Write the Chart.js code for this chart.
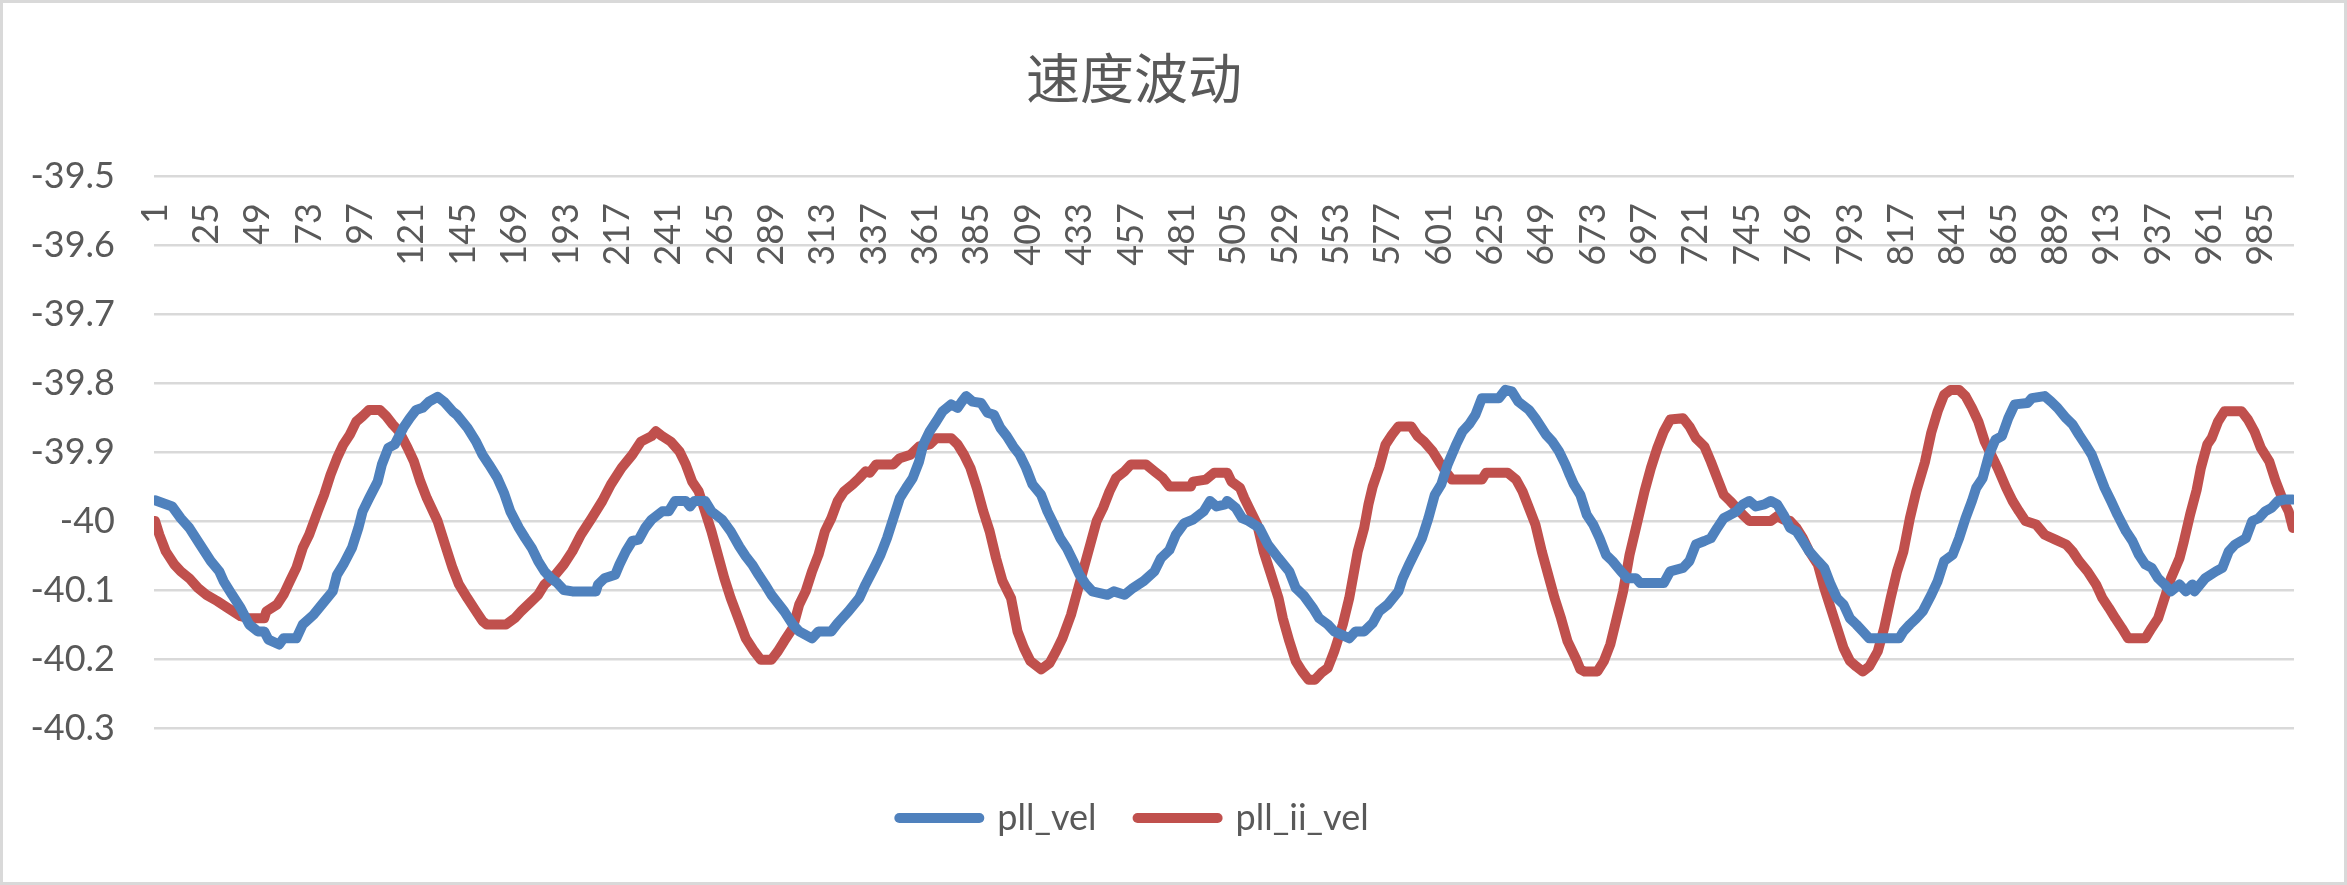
<!DOCTYPE html>
<html>
<head>
<meta charset="utf-8">
<script src="https://cdn.jsdelivr.net/npm/chart.js@4.4.1/dist/chart.umd.min.js"></script>
<style>
html,body{margin:0;padding:0;background:#ffffff;}
#wrap{width:2347px;height:885px;position:relative;}
canvas{display:block;}
</style>
</head>
<body>
<div id="wrap"><canvas id="c" width="2347" height="885"></canvas></div>
<script>
// ---------- data ----------
const chartTitle = '速度波动';
const seriesNames = ['pll_vel', 'pll_ii_vel'];
const seriesColors = ['#4F81BD', '#C0504D'];

// category axis runs 1..1000; these are the labelled categories
const xTickLabels = [1,25,49,73,97,121,145,169,193,217,241,265,289,313,337,361,385,409,433,457,481,505,529,553,577,601,625,649,673,697,721,745,769,793,817,841,865,889,913,937,961,985];
const xMin = 1;
const xMax = 1000;
const yTickValues = [-40.3, -40.2, -40.1, -40, -39.9, -39.8, -39.7, -39.6, -39.5];

// pll_vel: category index -> value
const pllVelIdx = [1,9,13,17,22,27,31,33,37,41,45,49,52,54,59,61,67,70,75,80,84,86,89,93,96,98,101,105,107,110,113,117,120,123,126,129,133,136,140,142,147,151,154,157,161,164,167,
171,174,177,180,183,186,189,192,196,207,208,211,216,218,221,224,227,230,233,238,241,244,249,251,253,258,261,266,270,274,277,280,283,286,289,292,295,299,302,308,311,317,320,325,330,333,
337,340,343,346,349,352,355,358,360,363,366,369,373,376,378,380,383,387,390,393,396,399,402,405,408,411,415,418,421,424,427,430,433,436,439,446,449,454,458,463,468,471,475,478,482,486,491,494,497,
501,502,506,509,512,517,521,526,531,534,538,542,545,549,552,559,562,566,570,573,577,582,584,587,590,593,596,599,602,605,609,612,615,618,621,629,632,635,638,643,646,651,654,657,660,662,
664,667,670,673,676,679,682,686,689,693,695,706,709,715,718,721,725,728,731,734,737,740,743,746,749,753,756,759,762,765,768,771,774,778,781,784,787,790,793,796,799,802,816,818,821,824,827,
831,834,837,841,844,847,850,852,855,858,861,864,867,870,876,878,884,887,890,894,897,900,903,906,909,912,915,918,922,925,928,931,934,937,940,943,947,950,953,954,959,964,967,970,973,978,981,984,987,990,993,996,1000];
const pllVelVals = [-39.970,-39.979,-39.996,-40.010,-40.034,-40.058,-40.073,-40.087,-40.107,-40.126,-40.150,-40.160,-40.160,-40.172,-40.179,-40.170,-40.170,-40.150,-40.136,-40.117,-40.102,-40.078,-40.063,-40.039,-40.010,-39.986,-39.967,-39.943,-39.918,-39.894,-39.889,-39.865,-39.851,-39.839,-39.836,-39.827,-39.820,-39.827,-39.841,-39.846,-39.865,-39.885,-39.904,-39.918,-39.938,-39.959,-39.986,
-40.010,-40.025,-40.039,-40.058,-40.073,-40.083,-40.090,-40.100,-40.102,-40.102,-40.092,-40.083,-40.078,-40.063,-40.044,-40.029,-40.027,-40.010,-39.998,-39.986,-39.986,-39.971,-39.971,-39.979,-39.971,-39.971,-39.986,-39.998,-40.015,-40.037,-40.051,-40.063,-40.078,-40.092,-40.107,-40.119,-40.131,-40.150,-40.160,-40.170,-40.160,-40.160,-40.148,-40.131,-40.112,-40.092,
-40.068,-40.049,-40.025,-39.996,-39.967,-39.952,-39.938,-39.914,-39.889,-39.870,-39.856,-39.841,-39.831,-39.836,-39.827,-39.819,-39.827,-39.829,-39.843,-39.846,-39.865,-39.877,-39.892,-39.904,-39.923,-39.947,-39.962,-39.986,-40.005,-40.025,-40.039,-40.058,-40.078,-40.092,-40.102,-40.107,-40.102,-40.107,-40.097,-40.087,-40.073,-40.054,-40.042,-40.020,-40.003,-39.998,-39.986,-39.971,-39.979,
-39.976,-39.971,-39.981,-39.996,-40.000,-40.010,-40.034,-40.054,-40.073,-40.097,-40.109,-40.126,-40.141,-40.150,-40.160,-40.170,-40.160,-40.160,-40.148,-40.131,-40.121,-40.102,-40.083,-40.063,-40.044,-40.025,-39.996,-39.962,-39.947,-39.918,-39.889,-39.870,-39.860,-39.846,-39.822,-39.822,-39.810,-39.812,-39.827,-39.839,-39.851,-39.875,-39.885,-39.899,-39.918,-39.933,
-39.947,-39.962,-39.991,-40.005,-40.025,-40.049,-40.058,-40.073,-40.083,-40.083,-40.090,-40.090,-40.073,-40.068,-40.058,-40.034,-40.029,-40.025,-40.010,-39.996,-39.991,-39.986,-39.976,-39.971,-39.979,-39.976,-39.971,-39.976,-39.991,-40.010,-40.015,-40.029,-40.044,-40.058,-40.068,-40.092,-40.112,-40.121,-40.141,-40.150,-40.160,-40.170,-40.170,-40.160,-40.150,-40.141,-40.131,
-40.107,-40.087,-40.058,-40.049,-40.025,-39.996,-39.971,-39.952,-39.938,-39.904,-39.882,-39.877,-39.851,-39.831,-39.829,-39.822,-39.819,-39.827,-39.836,-39.851,-39.860,-39.875,-39.889,-39.904,-39.928,-39.952,-39.971,-39.991,-40.015,-40.029,-40.049,-40.063,-40.068,-40.083,-40.092,-40.102,-40.092,-40.102,-40.092,-40.102,-40.083,-40.073,-40.068,-40.044,-40.034,-40.025,-40.000,-39.996,-39.986,-39.981,-39.971,-39.969,-39.969];

// pll_ii_vel: category index -> value
const pllIiVelIdx = [1,3,6,10,13,17,21,25,30,35,41,45,52,53,58,61,64,67,70,73,77,80,83,86,89,92,95,98,101,106,109,112,115,119,122,125,128,133,137,140,143,147,151,154,156,165,
169,172,177,180,183,188,192,196,200,205,210,214,219,224,228,233,235,238,242,246,249,252,255,258,261,264,267,270,274,277,281,284,289,292,295,299,302,305,308,311,314,317,320,323,327,330,333,
335,338,346,349,354,358,363,366,373,376,379,382,385,388,391,394,397,401,404,407,410,415,419,422,425,429,432,435,438,441,444,447,450,454,457,464,468,472,475,485,486,492,496,
502,504,508,510,513,516,519,522,526,528,531,534,537,540,543,546,549,552,556,559,563,566,568,570,573,576,579,582,588,591,594,598,601,604,607,621,623,633,637,640,643,646,649,652,655,658,661,
665,667,669,675,678,681,684,687,690,693,697,700,703,706,709,715,718,721,725,728,731,734,737,740,743,746,756,759,762,765,768,771,774,778,781,784,787,790,793,796,799,802,806,809,812,815,818,821,824,828,
831,834,837,840,844,847,850,853,856,859,862,866,869,872,875,880,884,889,894,897,900,904,908,911,914,917,920,923,931,934,937,940,943,947,949,952,955,957,960,962,965,968,976,979,982,985,989,992,995,998,1000];
const pllIiVelVals = [-40.000,-40.020,-40.044,-40.063,-40.073,-40.083,-40.097,-40.107,-40.116,-40.126,-40.138,-40.141,-40.141,-40.131,-40.121,-40.107,-40.087,-40.068,-40.039,-40.020,-39.986,-39.962,-39.933,-39.909,-39.889,-39.875,-39.856,-39.848,-39.839,-39.839,-39.848,-39.860,-39.870,-39.894,-39.914,-39.943,-39.967,-40.000,-40.039,-40.068,-40.092,-40.112,-40.131,-40.145,-40.150,-40.150,
-40.141,-40.131,-40.116,-40.107,-40.092,-40.078,-40.063,-40.044,-40.020,-39.996,-39.971,-39.947,-39.923,-39.904,-39.885,-39.877,-39.870,-39.877,-39.885,-39.899,-39.918,-39.943,-39.957,-39.986,-40.015,-40.049,-40.083,-40.112,-40.145,-40.170,-40.189,-40.201,-40.201,-40.189,-40.174,-40.155,-40.121,-40.102,-40.073,-40.049,-40.015,-39.996,-39.971,-39.957,-39.947,-39.938,-39.928,
-39.930,-39.918,-39.918,-39.909,-39.904,-39.892,-39.889,-39.880,-39.880,-39.889,-39.904,-39.923,-39.952,-39.986,-40.015,-40.054,-40.087,-40.112,-40.160,-40.184,-40.203,-40.215,-40.206,-40.189,-40.170,-40.136,-40.102,-40.068,-40.034,-40.000,-39.981,-39.957,-39.938,-39.928,-39.918,-39.918,-39.928,-39.938,-39.950,-39.950,-39.943,-39.940,-39.930,
-39.930,-39.943,-39.952,-39.967,-39.986,-40.005,-40.044,-40.073,-40.112,-40.141,-40.174,-40.203,-40.218,-40.230,-40.230,-40.220,-40.213,-40.189,-40.150,-40.112,-40.044,-40.010,-39.976,-39.950,-39.923,-39.889,-39.875,-39.863,-39.863,-39.877,-39.885,-39.899,-39.914,-39.928,-39.940,-39.940,-39.930,-39.930,-39.940,-39.957,-39.981,-40.005,-40.044,-40.078,-40.112,-40.141,-40.174,
-40.200,-40.215,-40.218,-40.218,-40.203,-40.179,-40.141,-40.102,-40.049,-40.010,-39.957,-39.923,-39.894,-39.870,-39.853,-39.851,-39.863,-39.880,-39.892,-39.914,-39.938,-39.962,-39.971,-39.981,-39.991,-40.000,-40.000,-39.993,-39.998,-40.000,-40.010,-40.025,-40.044,-40.063,-40.097,-40.126,-40.155,-40.184,-40.203,-40.211,-40.218,-40.211,-40.189,-40.155,-40.112,-40.073,-40.044,-39.996,-39.957,-39.915,
-39.872,-39.841,-39.817,-39.810,-39.810,-39.819,-39.836,-39.856,-39.885,-39.904,-39.923,-39.952,-39.971,-39.986,-40.000,-40.005,-40.020,-40.027,-40.034,-40.044,-40.058,-40.073,-40.092,-40.112,-40.126,-40.141,-40.155,-40.170,-40.170,-40.155,-40.141,-40.112,-40.083,-40.054,-40.030,-39.990,-39.955,-39.923,-39.889,-39.880,-39.856,-39.841,-39.841,-39.853,-39.870,-39.894,-39.914,-39.943,-39.967,-39.986,-40.010];

// ---------- chart ----------
const toPoints = (idx, vals) => idx.map((x, i) => ({ x: x, y: vals[i] }));

const frame = {
  id: 'frame',
  afterDraw(chart) {
    const ctx = chart.ctx;
    ctx.save();
    ctx.strokeStyle = '#D9D9D9';
    ctx.lineWidth = 3;
    ctx.strokeRect(1.5, 1.5, chart.width - 3, chart.height - 3);
    ctx.restore();
  }
};

const labelFont = { family: 'Lato', size: 36 };
const textColor = '#595959';

new Chart(document.getElementById('c'), {
  type: 'line',
  data: {
    datasets: [
      {
        label: seriesNames[0],
        data: toPoints(pllVelIdx, pllVelVals),
        borderColor: seriesColors[0],
        backgroundColor: seriesColors[0],
        borderWidth: 10,
        borderCapStyle: 'round',
        borderJoinStyle: 'round',
        pointRadius: 0,
        tension: 0,
        fill: false
      },
      {
        label: seriesNames[1],
        data: toPoints(pllIiVelIdx, pllIiVelVals),
        borderColor: seriesColors[1],
        backgroundColor: seriesColors[1],
        borderWidth: 10,
        borderCapStyle: 'round',
        borderJoinStyle: 'round',
        pointRadius: 0,
        tension: 0,
        fill: false
      }
    ]
  },
  options: {
    responsive: false,
    devicePixelRatio: 1,
    animation: false,
    events: [],
    layout: { padding: { left: -26, right: 53, top: 0, bottom: 39 } },
    scales: {
      x: {
        type: 'linear',
        axis: 'x',
        position: { y: -39.5 },
        min: xMin - 0.5,
        max: xMax + 0.5,
        afterBuildTicks: (s) => { s.ticks = xTickLabels.map(v => ({ value: v })); },
        grid: { display: false, drawTicks: false },
        border: { display: false },
        ticks: {
          autoSkip: false,
          minRotation: 90,
          maxRotation: 90,
          padding: 27,
          color: textColor,
          font: labelFont,
          callback: (v) => String(v)
        }
      },
      y: {
        type: 'linear',
        position: 'left',
        min: yTickValues[0],
        max: yTickValues[yTickValues.length - 1],
        afterBuildTicks: (s) => { s.ticks = yTickValues.map(v => ({ value: v })); },
        afterFit: (s) => { s.width = 180; },
        grid: { color: '#D9D9D9', lineWidth: 2.5, drawTicks: false },
        border: { display: false },
        ticks: {
          padding: 39,
          color: textColor,
          font: labelFont,
          callback: (v) => String(v)
        }
      }
    },
    plugins: {
      title: {
        display: true,
        text: chartTitle,
        color: textColor,
        font: { family: '"Noto Sans CJK SC", sans-serif', size: 54, weight: 'normal' },
        padding: { top: 46, bottom: 65.2 }
      },
      legend: {
        display: true,
        position: 'bottom',
        title: { display: true, text: '', font: { size: 10 }, padding: { top: 0, bottom: 19 } },
        labels: {
          usePointStyle: true,
          pointStyle: 'line',
          pointStyleWidth: 80,
          padding: 41,
          color: textColor,
          font: labelFont,
          generateLabels: (chart) => Chart.defaults.plugins.legend.labels.generateLabels(chart).map((l) => Object.assign(l, {
            lineWidth: 10,
            lineCap: 'round',
            strokeStyle: seriesColors[l.datasetIndex],
            fillStyle: seriesColors[l.datasetIndex]
          }))
        }
      },
      tooltip: { enabled: false }
    }
  },
  plugins: [frame]
});
</script>
</body>
</html>
